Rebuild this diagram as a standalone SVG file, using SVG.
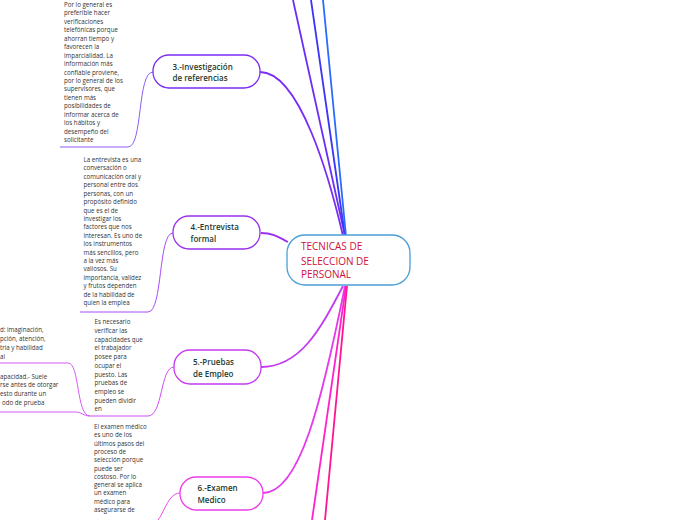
<svg xmlns="http://www.w3.org/2000/svg" width="696" height="520" viewBox="0 0 696 520">
<style>
.t{font-family:"Open Sans","Noto Sans",sans-serif;font-size:6.2px;fill:#333}
.n{font-family:"Open Sans","Noto Sans",sans-serif;font-size:8px;font-weight:600;fill:#1d3b30}
.c{font-family:"Open Sans","Noto Sans",sans-serif;font-size:10px;fill:#d0103a}
.box{fill:#fff;stroke-width:1.3}
.thin{fill:none;stroke-width:1}
.main{fill:none;stroke-width:1.8}
</style>
<rect width="696" height="520" fill="#fff"/>
<g id="connectors">
<path class="main" d="M345,236 L293,0" stroke="#6a2ff5"/>
<path class="main" d="M345,236 L311,0" stroke="#3b35f5"/>
<path class="main" d="M346,236 L323,0" stroke="#2a6bff"/>
<path class="main" d="M260,72 C300,72 330,180 343,236" stroke="#7a2cf5" stroke-width="1.4"/>
<path class="main" d="M261,233 C274,233 280,238 288,242" stroke="#9b30f0" stroke-width="1.2"/>
<path class="main" d="M343,286 C320,330 300,367 261,367" stroke="#c43af0" stroke-width="1.2"/>
<path class="main" d="M345,286 C322,400 300,493 263,493" stroke="#e53aec" stroke-width="1.2"/>
<path class="main" d="M346,286 L312,520" stroke="#ff22cc"/>
<path class="main" d="M347,286 L325,520" stroke="#ff1493"/>
<path class="thin" d="M60,147 H128 C143,147 137,72 153,72" stroke="#8c5cf5"/>
<path class="thin" d="M80,312 H148 C163,312 158,233 173,233" stroke="#a74cf5"/>
<path class="thin" d="M90,416 H148 C163,416 160,367 174,367" stroke="#d04cf5"/>
<path class="thin" d="M0,363 H68 C80,363 76,416 90,416" stroke="#d65af5"/>
<path class="thin" d="M0,412 H75 C82,412 83,416 90,416" stroke="#d65af5"/>
<path class="thin" d="M180,493 C165,493 163,525 150,525" stroke="#ee4aec"/>
</g>
<g id="central">
<rect class="box" x="287" y="235" width="123" height="50" rx="18" stroke="#4a9fd8"/>
<text class="c" x="301"><tspan x="301" y="250">TECNICAS DE</tspan><tspan x="301" y="265">SELECCION DE</tspan><tspan x="301" y="278">PERSONAL</tspan></text>
</g>
<g id="node3">
<rect class="box" x="153" y="55" width="107" height="33" rx="16" stroke="#7a2cf5"/>
<text class="n"><tspan x="172.5" y="70">3.-Investigación</tspan><tspan x="172.5" y="81">de referencias</tspan></text>
</g>
<g id="node4">
<rect class="box" x="173" y="216" width="87" height="33" rx="16" stroke="#9b30f0"/>
<text class="n"><tspan x="190.5" y="230">4.-Entrevista</tspan><tspan x="190.5" y="241.5">formal</tspan></text>
</g>
<g id="node5">
<rect class="box" x="174" y="350" width="87" height="34" rx="16" stroke="#c43af0"/>
<text class="n"><tspan x="193" y="365">5.-Pruebas</tspan><tspan x="193" y="376.5">de Empleo</tspan></text>
</g>
<g id="node6">
<rect class="box" x="180" y="477" width="83" height="33" rx="16" stroke="#ee3ae8"/>
<text class="n"><tspan x="197.5" y="491">6.-Examen</tspan><tspan x="197.5" y="502.5">Medico</tspan></text>
</g>
<g id="text-referencias">
<text class="t"><tspan x="64" y="7">Por lo general es</tspan><tspan x="64" y="15.4">preferible hacer</tspan><tspan x="64" y="23.9">verificaciones</tspan><tspan x="64" y="32.3">telefónicas porque</tspan><tspan x="64" y="40.8">ahorran tiempo y</tspan><tspan x="64" y="49.2">favorecen la</tspan><tspan x="64" y="57.6">imparcialidad. La</tspan><tspan x="64" y="66.1">información más</tspan><tspan x="64" y="74.5">confiable proviene,</tspan><tspan x="64" y="83">por lo general de los</tspan><tspan x="64" y="91.4">supervisores, que</tspan><tspan x="64" y="99.8">tienen más</tspan><tspan x="64" y="108.3">posibilidades de</tspan><tspan x="64" y="116.7">informar acerca de</tspan><tspan x="64" y="125.2">los hábitos y</tspan><tspan x="64" y="133.6">desempeño del</tspan><tspan x="64" y="142">solicitante</tspan></text>
</g>
<g id="text-entrevista">
<text class="t"><tspan x="83.5" y="162">La entrevista es una</tspan><tspan x="83.5" y="170.4">conversación o</tspan><tspan x="83.5" y="178.8">comunicación oral y</tspan><tspan x="83.5" y="187.2">personal entre dos</tspan><tspan x="83.5" y="195.6">personas, con un</tspan><tspan x="83.5" y="204">propósito definido</tspan><tspan x="83.5" y="212.5">que es el de</tspan><tspan x="83.5" y="220.9">investigar los</tspan><tspan x="83.5" y="229.3">factores que nos</tspan><tspan x="83.5" y="237.7">interesan. Es uno de</tspan><tspan x="83.5" y="246.1">los instrumentos</tspan><tspan x="83.5" y="254.5">más sencillos, pero</tspan><tspan x="83.5" y="262.9">a la vez más</tspan><tspan x="83.5" y="271.3">valiosos. Su</tspan><tspan x="83.5" y="279.7">importancia, validez</tspan><tspan x="83.5" y="288.1">y frutos dependen</tspan><tspan x="83.5" y="296.6">de la habilidad de</tspan><tspan x="83.5" y="305">quien la emplea</tspan></text>
</g>
<g id="text-pruebas">
<text class="t"><tspan x="94.5" y="324.3">Es necesario</tspan><tspan x="94.5" y="333">verificar las</tspan><tspan x="94.5" y="341.7">capacidades que</tspan><tspan x="94.5" y="350.4">el trabajador</tspan><tspan x="94.5" y="359.1">posee para</tspan><tspan x="94.5" y="367.8">ocupar el</tspan><tspan x="94.5" y="376.5">puesto. Las</tspan><tspan x="94.5" y="385.2">pruebas de</tspan><tspan x="94.5" y="393.9">empleo se</tspan><tspan x="94.5" y="402.6">pueden dividir</tspan><tspan x="94.5" y="411.3">en</tspan></text>
</g>
<g id="text-left1">
<text class="t"><tspan x="0" y="332">d: imaginación,</tspan><tspan x="0" y="340.9">pción, atención,</tspan><tspan x="0" y="349.8">tria y habilidad</tspan><tspan x="0" y="358.7">al</tspan></text>
</g>
<g id="text-left2">
<text class="t"><tspan x="0" y="378.7">apacidad.- Suele</tspan><tspan x="0" y="387.4">rse antes de otorgar</tspan><tspan x="0" y="396.1">esto durante un</tspan><tspan x="2" y="404.7">odo de prueba</tspan></text>
</g>
<g id="text-examen">
<text class="t"><tspan x="94" y="429">El examen médico</tspan><tspan x="94" y="437.3">es uno de los</tspan><tspan x="94" y="445.6">últimos pasos del</tspan><tspan x="94" y="453.9">proceso de</tspan><tspan x="94" y="462.2">selección porque</tspan><tspan x="94" y="470.5">puede ser</tspan><tspan x="94" y="478.8">costoso. Por lo</tspan><tspan x="94" y="487.1">general se aplica</tspan><tspan x="94" y="495.4">un examen</tspan><tspan x="94" y="503.7">médico para</tspan><tspan x="94" y="512">asegurarse de</tspan></text>
</g>
</svg>
